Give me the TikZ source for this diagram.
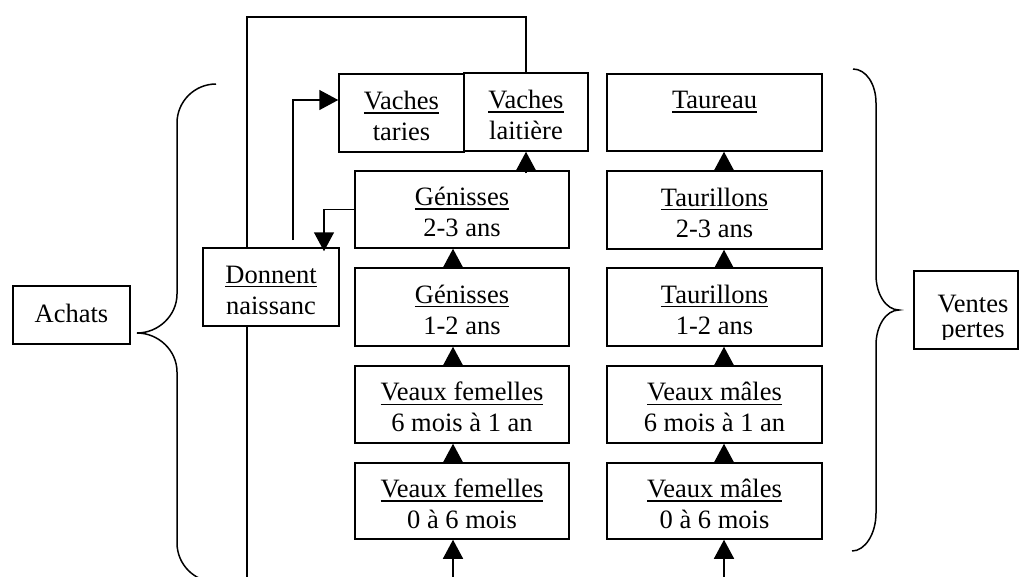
\documentclass[tikz,border=0pt]{standalone}
\usepackage{fontspec}
\setmainfont{Liberation Serif}
\usetikzlibrary{arrows.meta,calc}
\newcommand\ulx[1]{\leavevmode\vtop{\hbox{#1}\kern2.6pt\hrule height 1.5pt}}
\newcommand\bigfont{\fontsize{26.5pt}{31pt}\selectfont}
\begin{document}
\begin{tikzpicture}[x=1pt,y=-1pt,line width=1.5pt,
  box/.style={draw, fill=white, inner sep=0pt, align=center, font=\bigfont,
    text height=54pt, text depth=0pt, minimum width=214pt, minimum height=77pt},
  rbox/.style={box, minimum width=215pt},
  arr/.style={-{Triangle[width=20pt,length=19pt]}}]
\useasboundingbox (0,0) rectangle (1020,576);
\clip (0,0) rectangle (1020,576);

% left column
\node[box, minimum width=125pt, minimum height=78pt] (taries) at (401.5,113) {\ulx{Vaches}\\taries};
\node[box, minimum width=124pt, minimum height=78pt] (laitiere) at (526,112) {\ulx{Vaches}\\laiti\`ere};
\node[box] (gen23) at (462,209.5) {\ulx{G\'enisses}\\2-3 ans};
\node[box, minimum height=78pt] (gen12) at (462,307) {\ulx{G\'enisses}\\1-2 ans};
\node[box] (vf6) at (462,404.5) {\ulx{Veaux femelles}\\6 mois \`a 1 an};
\node[box, minimum height=76pt] (vf0) at (462,501) {\ulx{Veaux femelles}\\0 \`a 6 mois};

% right column
\node[rbox] (taureau) at (714.5,112.5) {\ulx{Taureau}\\\strut};
\node[rbox, minimum height=78pt] (tau23) at (714.5,210) {\ulx{Taurillons}\\2-3 ans};
\node[rbox, minimum height=78pt] (tau12) at (714.5,307) {\ulx{Taurillons}\\1-2 ans};
\node[rbox] (vm6) at (714.5,404.5) {\ulx{Veaux m\^ales}\\6 mois \`a 1 an};
\node[rbox, minimum height=76pt] (vm0) at (714.5,501) {\ulx{Veaux m\^ales}\\0 \`a 6 mois};

% side boxes
\node[box, minimum width=136pt, minimum height=78pt] (donnent) at (271,287) {\ulx{Donnent}\\naissanc};
\node[draw, fill=white, inner sep=0pt, font=\bigfont, text height=14pt, text depth=0pt,
  minimum width=117pt, minimum height=58pt] (achats) at (71.5,315) {Achats};
\node[draw, fill=white, inner sep=0pt, minimum width=104pt, minimum height=78pt] (ventes) at (966,310) {};
\begin{scope}
  \clip (914,271) rectangle (1018,339);
  \node[font=\fontsize{26.5pt}{25pt}\selectfont, align=center, inner sep=0pt,
    text height=43pt, text depth=0pt, anchor=north] (ventestxt) at (973,294) {Ventes\\pertes};
\end{scope}

% loop line
\coordinate (loopTL) at (247,17);
\coordinate (loopBL) at (247,580);
\draw (laitiere.north) |- (loopTL) -- (loopTL |- donnent.north);
\draw (loopTL |- donnent.south) -- (loopBL);

% donnent -> vaches taries
\coordinate (dnA) at (293,240);
\draw[arr] (dnA) |- ($(taries.west)+(0,-13)$);

% genisses 2-3 -> donnent
\draw[arr] (gen23.west) -| ($(donnent.north)+(53,4)$);

% genisses 2-3 -> vaches laitiere
\draw[arr] ($(laitiere.south |- gen23.north)+(0,3)$) -- (laitiere.south);

% left column arrows
\coordinate (inF) at (453,580);
\draw[arr] (inF) -- ($(vf0.south)+(-9,0)$);
\draw[arr] ($(vf0.north)+(-9,0)$) -- ($(vf6.south)+(-9,0)$);
\draw[arr] ($(vf6.north)+(-9,0)$) -- ($(gen12.south)+(-9,0)$);
\draw[arr] ($(gen12.north)+(-9,0)$) -- ($(gen23.south)+(-9,0)$);

% right column arrows
\coordinate (inM) at (724,580);
\draw[arr] (inM) -- ($(vm0.south)+(9.5,0)$);
\draw[arr] ($(vm0.north)+(9.5,0)$) -- ($(vm6.south)+(9.5,0)$);
\draw[arr] ($(vm6.north)+(9.5,0)$) -- ($(tau12.south)+(9.5,0)$);
\draw[arr] ($(tau12.north)+(9.5,0)$) -- ($(tau23.south)+(9.5,0)$);
\draw[arr] ($(tau23.north)+(9.5,0)$) -- ($(taureau.south)+(9.5,0)$);

% braces
\draw (216,84) .. controls (194.5,84) and (177,101.5) .. (177,123) -- (177,294)
  .. controls (177,315.5) and (158.5,333) .. (137,333)
  .. controls (158.5,333) and (177,350.5) .. (177,372) -- (177,543)
  .. controls (177,564.5) and (194.5,582) .. (216,582);
\draw (853,69) .. controls (866,69) and (876,84) .. (876,103) -- (876,275)
  .. controls (876,294) and (886,310) .. (899,310)
  .. controls (886,310) and (876,326) .. (876,345) -- (876,513)
  .. controls (876,534) and (865,551) .. (852,551);
\end{tikzpicture}
\end{document}
